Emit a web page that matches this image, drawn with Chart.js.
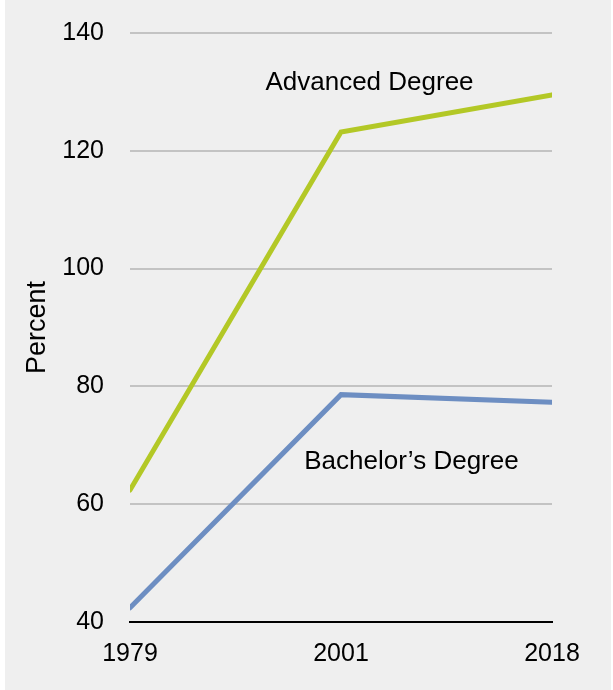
<!DOCTYPE html>
<html>
<head>
<meta charset="utf-8">
<script src="https://cdn.jsdelivr.net/npm/chart.js@4/dist/chart.umd.min.js"></script>
<style>
  html, body { margin: 0; padding: 0; background: #ffffff; }
  #wrap { position: absolute; left: 5px; top: 0; width: 606px; height: 690px; background: #efefef; }
  canvas { display: block; }
</style>
</head>
<body>
<div id="wrap"><canvas id="c" width="606" height="690"></canvas></div>
<script>
// Years on the horizontal axis
const years = ['1979', '2001', '2018'];
// Percent values per degree level
const advancedDegree = [62.4, 123.2, 129.5];
const bachelorsDegree = [42.4, 78.6, 77.3];
// Y-axis tick range
const yTicks = [40, 60, 80, 100, 120, 140];
// In-plot series labels: [text, category position, value position]
const seriesLabels = [
  ['Advanced Degree', 1.135, 131.6],
  ['Bachelor\u2019s Degree', 1.334, 67.2]
];

const FONT = '"Liberation Sans", Arial, sans-serif';

const seriesLabelPlugin = {
  id: 'seriesLabels',
  afterDatasetsDraw(chart) {
    const ctx = chart.ctx;
    const xs = chart.scales.x, ys = chart.scales.y;
    ctx.save();
    ctx.fillStyle = '#000000';
    ctx.font = '26px ' + FONT;
    ctx.textAlign = 'center';
    ctx.textBaseline = 'middle';
    seriesLabels.forEach(([text, cx, vy]) => {
      ctx.fillText(text, xs.getPixelForValue(cx), ys.getPixelForValue(vy));
    });
    ctx.restore();
  }
};

new Chart(document.getElementById('c'), {
  type: 'line',
  data: {
    labels: years,
    datasets: [
      {
        label: 'Advanced Degree',
        data: advancedDegree,
        borderColor: '#b3c826',
        borderWidth: 5,
        pointRadius: 0,
        tension: 0,
        clip: 0,
        borderCapStyle: 'round'
      },
      {
        label: 'Bachelor\u2019s Degree',
        data: bachelorsDegree,
        borderColor: '#6d8ec2',
        borderWidth: 5,
        pointRadius: 0,
        tension: 0,
        clip: 0,
        borderCapStyle: 'round'
      }
    ]
  },
  options: {
    responsive: false,
    animation: false,
    events: [],
    layout: { autoPadding: false, padding: { left: 0, right: 59, top: 33, bottom: 0 } },
    plugins: {
      legend: { display: false },
      tooltip: { enabled: false },
      title: { display: false }
    },
    scales: {
      x: {
        offset: false,
        grid: { display: false, drawTicks: false },
        border: { display: true, color: '#000000', width: 2 },
        ticks: { color: '#000000', font: { family: FONT, size: 25 }, padding: 17, maxRotation: 0 },
        afterFit(scale) { scale.height = 68; }
      },
      y: {
        min: 40,
        max: 140,
        afterBuildTicks(scale) { scale.ticks = yTicks.map(v => ({ value: v })); },
        grid: { color: '#c3c3c3', lineWidth: 2, drawTicks: false },
        border: { display: false },
        ticks: { color: '#000000', font: { family: FONT, size: 25 }, padding: 26 },
        title: { display: true, text: 'Percent', color: '#000000', font: { family: FONT, size: 27 }, padding: { top: 16, bottom: 0 } },
        afterFit(scale) {
          scale.width = 125;
          scale.paddingTop = 0;
          scale.paddingBottom = 0;
        }
      }
    }
  },
  plugins: [seriesLabelPlugin]
});
</script>
</body>
</html>
